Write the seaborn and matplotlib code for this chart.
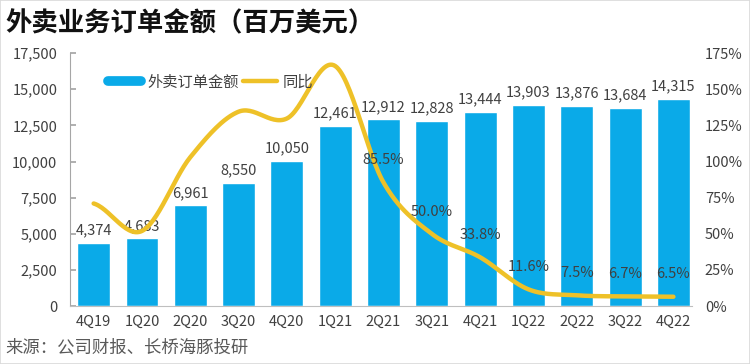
import numpy as np
import pandas as pd
import matplotlib
matplotlib.use("Agg")
import matplotlib.pyplot as plt
import seaborn as sns
from matplotlib.lines import Line2D
from matplotlib.ticker import FuncFormatter, MultipleLocator
from matplotlib.patches import Rectangle

quarters = ["4Q19", "1Q20", "2Q20", "3Q20", "4Q20", "1Q21", "2Q21",
            "3Q21", "4Q21", "1Q22", "2Q22", "3Q22", "4Q22"]
gmv = [4374, 4683, 6961, 8550, 10050, 12461, 12912, 12828, 13444,
       13903, 13876, 13684, 14315]
yoy = [0.71, 0.52, 1.03, 1.345, 1.298, 1.661, 0.855, 0.500, 0.338,
       0.116, 0.075, 0.067, 0.065]
yoy_labels = [None, None, None, None, None, None, "85.5%", "50.0%",
              "33.8%", "11.6%", "7.5%", "6.7%", "6.5%"]
title = "外卖业务订单金额（百万美元）"
source = "来源：公司财报、长桥海豚投研"
bar_name = "外卖订单金额"
line_name = "同比"

BLUE = "#0AAAE8"
YELLOW = "#EEC128"
TXT = "#404040"

sns.set_theme(style="white")
plt.rcParams["font.family"] = ["Noto Sans CJK SC", "DejaVu Sans"]

fig = plt.figure(figsize=(7.5, 3.64), dpi=100)
ax = fig.add_axes([0.0933, 0.159, 0.8297, 0.695])

df = pd.DataFrame({"q": quarters, "v": gmv})
sns.barplot(data=df, x="q", y="v", color=BLUE, width=0.68, saturation=1,
            ax=ax, zorder=2)
ax.set_ylim(0, 17500)
ax.set_xlim(-0.49, 12.39)
ax.yaxis.set_major_locator(MultipleLocator(2500))
ax.yaxis.set_major_formatter(FuncFormatter(lambda v, p: f"{int(v):,}"))
ax.set_xlabel("")
ax.set_ylabel("")
for s in ["top", "right"]:
    ax.spines[s].set_visible(False)
ax.spines["left"].set_color("#A6A6A6")
ax.spines["bottom"].set_color("#BFBFBF")
ax.spines["left"].set_linewidth(0.8)
ax.spines["bottom"].set_linewidth(0.8)
ax.tick_params(axis="y", direction="in", length=4, color="#A6A6A6",
               labelsize=10.5, labelcolor=TXT, pad=9, left=True)
ax.tick_params(axis="x", length=0, labelsize=10.5, labelcolor=TXT, pad=6)

for i, v in enumerate(gmv):
    ax.annotate(f"{v:,}", (i, v), xytext=(0, 4), textcoords="offset points",
                ha="center", va="bottom", fontsize=10.5, color=TXT, zorder=5)

# smooth line (Catmull-Rom rendering like Excel smoothed line)
ax2 = ax.twinx()
xs = np.arange(len(yoy), dtype=float)
ys = np.array(yoy)
px = np.concatenate([[xs[0] - (xs[1] - xs[0])], xs, [xs[-1] + (xs[-1] - xs[-2])]])
py = np.concatenate([[ys[0]], ys, [ys[-1]]])
sx, sy = [], []
for k in range(1, len(px) - 2):
    t = np.linspace(0, 1, 30, endpoint=False)
    for arr, out in ((px, sx), (py, sy)):
        p0, p1, p2, p3 = arr[k - 1], arr[k], arr[k + 1], arr[k + 2]
        out.extend(0.5 * ((2 * p1) + (-p0 + p2) * t +
                          (2 * p0 - 5 * p1 + 4 * p2 - p3) * t ** 2 +
                          (-p0 + 3 * p1 - 3 * p2 + p3) * t ** 3))
sx.append(xs[-1]); sy.append(ys[-1])
sns.lineplot(x=sx, y=sy, ax=ax2, color=YELLOW, linewidth=3.2, sort=False,
             estimator=None, zorder=3)
ax2.set_ylim(0, 1.75)
ax2.yaxis.set_major_locator(MultipleLocator(0.25))
ax2.yaxis.set_major_formatter(FuncFormatter(lambda v, p: f"{v*100:.0f}%"))
for s in ["top", "right", "left", "bottom"]:
    ax2.spines[s].set_visible(False)
ax2.tick_params(axis="y", length=0, labelsize=10.5, labelcolor=TXT, pad=9)
ax2.set_xlim(-0.49, 12.39)

for i, lab in enumerate(yoy_labels):
    if lab:
        ax2.annotate(lab, (i, yoy[i]), xytext=(0, 11), textcoords="offset points",
                     ha="center", va="bottom", fontsize=10.5, color=TXT, zorder=6)

handles = [Line2D([0], [0], color=BLUE, linewidth=7),
           Line2D([0], [0], color=YELLOW, linewidth=3.2)]
fig.legend(handles, [bar_name, line_name], ncol=2, frameon=False,
           loc="center left", bbox_to_anchor=(0.125, 0.775), fontsize=11,
           handlelength=2.2, handletextpad=0.4, columnspacing=0.3,
           labelcolor=TXT)

fig.text(0.007, 0.935, title, fontsize=19, fontweight="bold", color="#111111",
         ha="left", va="center")
fig.text(0.007, 0.045, source, fontsize=12.5, color="#595959",
         ha="left", va="center")
fig.patches.append(Rectangle((0, 0), 1, 1, transform=fig.transFigure,
                             fill=False, edgecolor="#D9D9D9", linewidth=1.2))

fig.savefig("out.png", dpi=100)
